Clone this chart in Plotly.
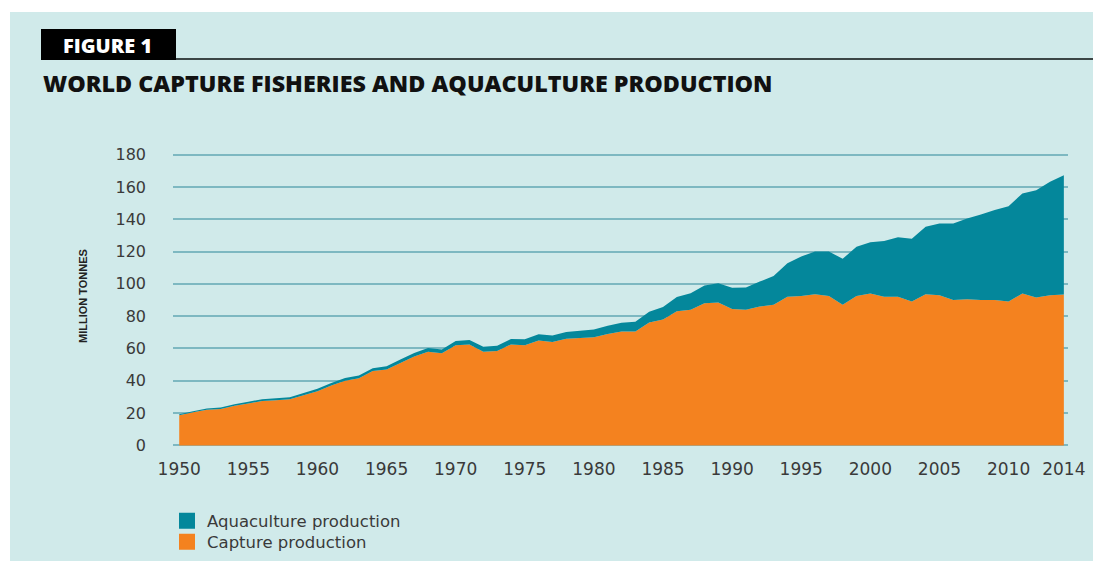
import plotly.graph_objects as go

years = list(range(1950, 2015))

capture = [18.7, 20.5, 22.0, 22.5, 24.5, 26.0, 27.5, 28.0, 28.5, 31.0,
           33.5, 37.0, 40.0, 41.5, 46.0, 47.0, 51.0, 55.0, 58.0, 57.0,
           62.0, 62.5, 58.0, 58.5, 62.5, 62.0, 65.0, 64.0, 66.0, 66.5,
           67.0, 69.0, 70.5, 70.5, 76.0, 78.0, 83.0, 84.0, 88.0, 88.5,
           84.5, 84.0, 86.0, 87.0, 92.0, 92.5, 93.5, 92.5, 87.0, 92.5,
           94.0, 92.0, 92.0, 89.0, 93.5, 93.0, 90.0, 90.5, 90.0, 90.0,
           89.0, 94.0, 91.5, 93.0, 93.4]

aquaculture = [0.6, 0.7, 0.8, 0.9, 0.9, 1.0, 1.1, 1.2, 1.3, 1.4,
               1.6, 1.6, 1.7, 1.8, 1.8, 2.0, 2.1, 2.2, 2.3, 2.4,
               2.6, 2.8, 3.0, 3.2, 3.4, 3.7, 3.8, 4.0, 4.2, 4.5,
               4.7, 5.0, 5.4, 6.0, 6.7, 7.7, 8.8, 10.2, 11.0, 11.8,
               13.1, 13.7, 15.4, 17.8, 20.8, 24.4, 26.6, 27.5, 28.5, 30.5,
               31.8, 34.6, 36.8, 38.9, 41.9, 44.3, 47.3, 49.9, 52.9, 55.7,
               59.0, 62.0, 66.5, 70.2, 73.8]

x_ticks = [1950, 1955, 1960, 1965, 1970, 1975, 1980, 1985, 1990, 1995, 2000, 2005, 2010, 2014]
y_ticks = [0, 20, 40, 60, 80, 100, 120, 140, 160, 180]

ORANGE = "#f4821f"
TEAL = "#04879b"
PANEL = "#d0eaea"
GRID = "#7db8c1"
TXT = "#3a3a3a"
TICKFONT = "DejaVu Sans"

# the page body has an 8px margin, so the figure is placed 8px in from the top-left
O = 8
W, H = 1101 - O, 561 - O
# plot area in page pixels: x 173..1068, y 153..447
L, R, T, B = 173 - O, 1101 - 1068, 153 - O, 561 - 447
PW, PH = W - L - R, H - T - B


def px(xp):
    return (xp - O - L) / PW


def py(yp):
    return (H - B - (yp - O)) / PH


fig = go.Figure()
fig.add_trace(go.Scatter(x=years, y=capture, name="Capture production", stackgroup="one",
                         mode="none", fillcolor=ORANGE, showlegend=False, hoverinfo="x+y"))
fig.add_trace(go.Scatter(x=years, y=aquaculture, name="Aquaculture production", stackgroup="one",
                         mode="none", fillcolor=TEAL, showlegend=False, hoverinfo="x+y"))
# legend entries (square swatches), one legend per row so rows can be spaced like the original
fig.add_trace(go.Scatter(x=[None], y=[None], mode="markers", name="Aquaculture production",
                         marker=dict(symbol="square", size=16, color=TEAL), legend="legend"))
fig.add_trace(go.Scatter(x=[None], y=[None], mode="markers", name="Capture production",
                         marker=dict(symbol="square", size=16, color=ORANGE), legend="legend2"))

shapes = [
    dict(type="rect", xref="paper", yref="paper", x0=px(0), x1=px(1101), y0=py(0), y1=py(12),
         fillcolor="white", line=dict(width=0), layer="above"),
    dict(type="rect", xref="paper", yref="paper", x0=px(0), x1=px(10), y0=py(0), y1=py(561),
         fillcolor="white", line=dict(width=0), layer="above"),
    dict(type="rect", xref="paper", yref="paper", x0=px(41), x1=px(176), y0=py(29), y1=py(60),
         fillcolor="black", line=dict(width=0), layer="above"),
    dict(type="line", xref="paper", yref="paper", x0=px(176), x1=px(1101), y0=py(59), y1=py(59),
         line=dict(color="#3b4646", width=2), layer="above"),
]

annotations = [
    dict(text="FIGURE 1", xref="paper", yref="paper", x=px(61), y=py(45), xanchor="left",
         yanchor="middle", showarrow=False,
         font=dict(family="Open Sans", size=20, color="white", weight=800)),
    dict(text="WORLD CAPTURE FISHERIES AND AQUACULTURE PRODUCTION", xref="paper", yref="paper",
         x=px(41), y=py(83), xanchor="left", yanchor="middle", showarrow=False,
         font=dict(family="Open Sans", size=23.3, color="#111111", weight=800)),
    dict(text="MILLION TONNES", xref="paper", yref="paper", x=px(83), y=py(296),
         xanchor="center", yanchor="middle", textangle=-90, showarrow=False,
         font=dict(family="Liberation Sans Narrow, Arial Narrow, sans-serif", size=11,
                   color="#222222", weight=700)),
]

leg_common = dict(xanchor="left", yanchor="middle", bgcolor="rgba(0,0,0,0)",
                  font=dict(family=TICKFONT, size=16.5, color=TXT), itemwidth=30)

fig.update_layout(
    width=W, height=H,
    margin=dict(l=L, r=R, t=T, b=B, autoexpand=False),
    paper_bgcolor=PANEL, plot_bgcolor=PANEL,
    shapes=shapes, annotations=annotations,
    showlegend=True,
    legend=dict(x=px(167), y=py(521), **leg_common),
    legend2=dict(x=px(167), y=py(542), **leg_common),
    xaxis=dict(range=[1949.55, 2014.3], tickvals=x_ticks, ticktext=[str(v) for v in x_ticks],
               showgrid=False, zeroline=False, showline=False, ticks="",
               tickfont=dict(family=TICKFONT, size=17, color=TXT), ticklabelstandoff=10),
    yaxis=dict(range=[-1, 181], tickvals=y_ticks, showgrid=True, gridcolor=GRID, gridwidth=2,
               zeroline=False, showline=False, ticks="",
               tickfont=dict(family=TICKFONT, size=16, color=TXT), ticklabelstandoff=26),
)

fig.write_html("out.html")
